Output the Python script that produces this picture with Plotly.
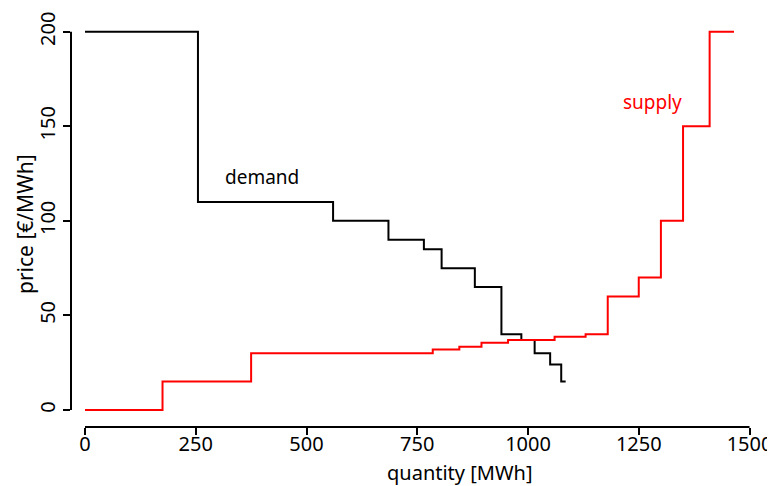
import plotly.graph_objects as go

# demand step curve: price level starting at each quantity breakpoint
demand_q = [0, 255, 560, 685, 765, 805, 880, 940, 985, 1015, 1050, 1075, 1085]
demand_p = [200, 110, 100, 90, 85, 75, 65, 40, 37, 30, 24, 15, 15]

# supply step curve
supply_q = [0, 175, 375, 785, 845, 895, 955, 1060, 1130, 1180, 1250, 1300, 1350, 1410, 1465]
supply_p = [0, 15, 30, 32, 33.5, 35.5, 37, 38.7, 40, 60, 70, 100, 150, 200, 200]

x_ticks = [0, 250, 500, 750, 1000, 1250, 1500]
y_ticks = [0, 50, 100, 150, 200]

FONT = "Noto Sans"

W, H = 775, 486
OFF = 8  # page body margin
L, R, T, B = 71 - OFF, 18, 10 - OFF, 67
pw, ph = W - L - R, H - T - B


def px(xs):  # screen x pixel -> paper
    return (xs - OFF - L) / pw


def py(ys):  # screen y pixel -> paper
    return (H - B - (ys - OFF)) / ph


fig = go.Figure()
fig.add_trace(go.Scatter(x=demand_q, y=demand_p, mode="lines", line_shape="hv",
                         line=dict(color="black", width=2), showlegend=False))
fig.add_trace(go.Scatter(x=supply_q, y=supply_p, mode="lines", line_shape="hv",
                         line=dict(color="#ff0000", width=2), showlegend=False))

fig.add_annotation(x=400, y=123, text="demand", showarrow=False,
                   font=dict(family=FONT, size=19, color="black"))
fig.add_annotation(x=1280, y=163, text="supply", showarrow=False,
                   font=dict(family=FONT, size=19, color="#ff0000"))

# axis titles
fig.add_annotation(text="quantity [MWh]", showarrow=False, xref="paper", yref="paper",
                   x=px(460), y=py(472), xanchor="center", yanchor="middle",
                   font=dict(family=FONT, size=20, color="black"))
fig.add_annotation(text="price [€/MWh]", textangle=-90, showarrow=False,
                   xref="paper", yref="paper", x=px(25), y=py(224),
                   xanchor="center", yanchor="middle",
                   font=dict(family=FONT, size=21, color="black"))

# R-style detached axis lines
fig.add_shape(type="line", xref="paper", yref="y", x0=0, x1=0, y0=0, y1=200,
              line=dict(color="black", width=2))
fig.add_shape(type="line", xref="x", yref="paper", x0=0, x1=1500, y0=0, y1=0,
              line=dict(color="black", width=2))

fig.update_layout(
    width=W, height=H,
    margin=dict(l=L, r=R, t=T, b=B),
    plot_bgcolor="white", paper_bgcolor="white",
    font=dict(family=FONT, size=20, color="black"),
    xaxis=dict(range=[-31.6, 1535], tickvals=x_ticks, ticktext=[str(v) for v in x_ticks],
               showgrid=False, zeroline=False, showline=False, automargin=False,
               ticks="outside", ticklen=7, tickwidth=2, tickcolor="black",
               ticklabelstandoff=-8),
    yaxis=dict(range=[-9, 211.5], tickvals=y_ticks, ticktext=[str(v) for v in y_ticks],
               showgrid=False, zeroline=False, showline=False, automargin=False,
               ticks="outside", ticklen=7, tickwidth=2, tickcolor="black",
               tickangle=-90),
)

fig.write_html("out.html")
